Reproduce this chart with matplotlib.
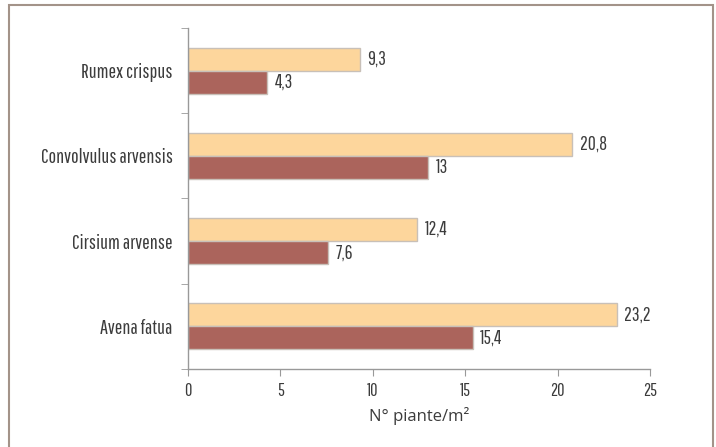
import matplotlib
matplotlib.use("Agg")
import matplotlib.pyplot as plt
from matplotlib.patches import Rectangle
from matplotlib.ticker import FixedLocator
import numpy as np

# Data (bottom to top)
species = ["Avena fatua", "Cirsium arvense", "Convolvulus arvensis", "Rumex crispus"]
series_light = [23.2, 12.4, 20.8, 9.3]
series_dark = [15.4, 7.6, 13.0, 4.3]
xticks = [0, 5, 10, 15, 20, 25]

narrow = ["Pathway Gothic One", "DejaVu Sans"]
txtcol = "#3c3c3c"

fig = plt.figure(figsize=(7.16, 4.47), dpi=100)
ax = fig.add_axes([0.2626, 0.1745, 0.6452, 0.7629])

# frame around the figure
fig.patches.append(Rectangle((9 / 716, -0.05), 704 / 716, 1 - 5 / 447 + 0.05,
                             transform=fig.transFigure, fill=False,
                             edgecolor="#a39389", linewidth=1.5))

y = np.arange(len(species))
h = 0.27
ax.barh(y + h / 2, series_light, height=h, color="#fdd69c", edgecolor="#c8c0b8", linewidth=1)
ax.barh(y - h / 2, series_dark, height=h, color="#ab645c", edgecolor="#c8c0b8", linewidth=1)

def fmt(v):
    s = f"{v:.1f}".replace(".", ",")
    return s[:-2] if s.endswith(",0") else s

for yi, v in zip(y, series_light):
    ax.text(v + 0.4, yi + h / 2, fmt(v), va="center", ha="left",
            fontsize=14, family=narrow, color=txtcol)
for yi, v in zip(y, series_dark):
    ax.text(v + 0.4, yi - h / 2, fmt(v), va="center", ha="left",
            fontsize=14, family=narrow, color=txtcol)

ax.set_xlim(0, 25)
ax.set_ylim(-0.5, len(species) - 0.5)
ax.set_xticks(xticks)
ax.set_xticklabels([str(t) for t in xticks], family=narrow, fontsize=13, color=txtcol)
ax.set_yticks(y)
ax.set_yticklabels(species, family=narrow, fontsize=14.5, color=txtcol)
ax.yaxis.set_minor_locator(FixedLocator(np.arange(-0.5, len(species), 1.0)))
ax.tick_params(axis="y", which="major", length=0, pad=11)
ax.tick_params(axis="y", which="minor", length=5, color="#999999")
ax.tick_params(axis="x", length=5, color="#999999", pad=5)

for side in ["top", "right"]:
    ax.spines[side].set_visible(False)
for side in ["left", "bottom"]:
    ax.spines[side].set_color("#999999")
    ax.spines[side].set_linewidth(1)

ax.set_xlabel("N° piante/m²", fontsize=12, family=["Open Sans", "DejaVu Sans"],
              color=txtcol, labelpad=6)

fig.savefig("out.png", dpi=100)
